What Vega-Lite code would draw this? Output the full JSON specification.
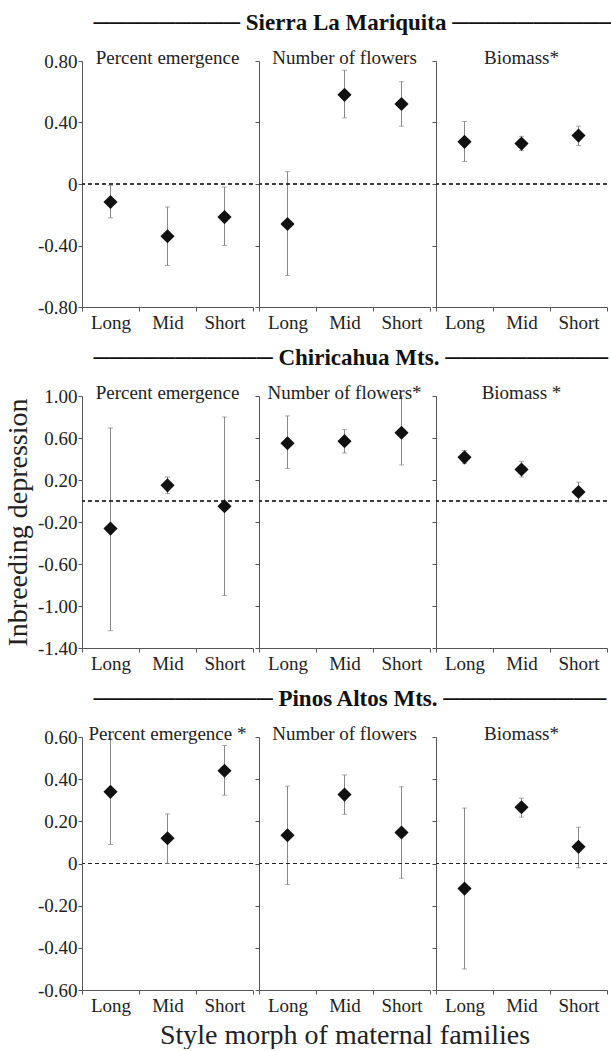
{
"$schema": "https://vega.github.io/schema/vega-lite/v6.json",
"padding": {"left": 4, "top": 12, "right": 0, "bottom": 0},
"spacing": 15,
"datasets": {"d": [
{"site":"SLM","measure":"PE","morph":"Long","v":-0.117,"lo":-0.22,"hi":-0.01},
{"site":"SLM","measure":"PE","morph":"Mid","v":-0.34,"lo":-0.53,"hi":-0.15},
{"site":"SLM","measure":"PE","morph":"Short","v":-0.215,"lo":-0.40,"hi":-0.02},
{"site":"SLM","measure":"NF","morph":"Long","v":-0.26,"lo":-0.595,"hi":0.08},
{"site":"SLM","measure":"NF","morph":"Mid","v":0.58,"lo":0.43,"hi":0.74},
{"site":"SLM","measure":"NF","morph":"Short","v":0.52,"lo":0.376,"hi":0.665},
{"site":"SLM","measure":"B","morph":"Long","v":0.274,"lo":0.146,"hi":0.407},
{"site":"SLM","measure":"B","morph":"Mid","v":0.263,"lo":0.217,"hi":0.31},
{"site":"SLM","measure":"B","morph":"Short","v":0.315,"lo":0.25,"hi":0.376},
{"site":"CH","measure":"PE","morph":"Long","v":-0.263,"lo":-1.235,"hi":0.695},
{"site":"CH","measure":"PE","morph":"Mid","v":0.149,"lo":0.07,"hi":0.23},
{"site":"CH","measure":"PE","morph":"Short","v":-0.05,"lo":-0.90,"hi":0.80},
{"site":"CH","measure":"NF","morph":"Long","v":0.55,"lo":0.31,"hi":0.81},
{"site":"CH","measure":"NF","morph":"Mid","v":0.57,"lo":0.457,"hi":0.68},
{"site":"CH","measure":"NF","morph":"Short","v":0.65,"lo":0.343,"hi":1.0},
{"site":"CH","measure":"B","morph":"Long","v":0.416,"lo":0.356,"hi":0.48},
{"site":"CH","measure":"B","morph":"Mid","v":0.30,"lo":0.229,"hi":0.378},
{"site":"CH","measure":"B","morph":"Short","v":0.086,"lo":-0.01,"hi":0.18},
{"site":"PA","measure":"PE","morph":"Long","v":0.34,"lo":0.09,"hi":0.59},
{"site":"PA","measure":"PE","morph":"Mid","v":0.12,"lo":0.0,"hi":0.235},
{"site":"PA","measure":"PE","morph":"Short","v":0.44,"lo":0.324,"hi":0.56},
{"site":"PA","measure":"NF","morph":"Long","v":0.134,"lo":-0.10,"hi":0.367},
{"site":"PA","measure":"NF","morph":"Mid","v":0.327,"lo":0.233,"hi":0.42},
{"site":"PA","measure":"NF","morph":"Short","v":0.147,"lo":-0.07,"hi":0.364},
{"site":"PA","measure":"B","morph":"Long","v":-0.119,"lo":-0.50,"hi":0.263},
{"site":"PA","measure":"B","morph":"Mid","v":0.267,"lo":0.22,"hi":0.31},
{"site":"PA","measure":"B","morph":"Short","v":0.079,"lo":-0.02,"hi":0.172}
]},
"data": {"name": "d"},
"vconcat": [
{"title": {"text": "─────────   Sierra La Mariquita  ──────────", "fontSize": 23, "fontWeight": "bold", "anchor": "start", "dx": 89, "offset": -4, "color": "#111", "baseline": "alphabetic", "frame": "bounds"},
 "bounds": "flush", "spacing": 6,
 "hconcat": [
 {"width":171,"height":246,"title":"Percent emergence","transform":[{"filter":"datum.site==='SLM' && datum.measure==='PE'"}],
  "layer":[
   {"mark":{"type":"rule","color":"#888"},"encoding":{"x":{"field":"morph","type":"nominal","sort":["Long","Mid","Short"],"title":null,"scale":{"paddingInner":0,"paddingOuter":0}},"y":{"field":"lo","type":"quantitative","title":"I","scale":{"domain":[-0.8,0.8],"nice":false,"zero":false},"axis":{"values":[-0.8,-0.6,-0.4,-0.2,0,0.2,0.4,0.6,0.8],"labelOverlap":false,"labelExpr":"datum.value == 0 ? '0' : (datum.value < 0 ? '-' : '') + format(abs(datum.value), '.2f')","titleColor":"transparent","titleFontSize":28,"titlePadding":5}},"y2":{"field":"hi"}}},
   {"mark":{"type":"rule","color":"#222","strokeDash":[4,3]},"encoding":{"y":{"datum":0,"type":"quantitative"}}},
   {"mark":{"type":"tick","color":"#888","size":5,"thickness":1},"encoding":{"x":{"field":"morph","type":"nominal","sort":["Long","Mid","Short"],"title":null},"y":{"field":"lo","type":"quantitative","title":"I"}}},
   {"mark":{"type":"tick","color":"#888","size":5,"thickness":1},"encoding":{"x":{"field":"morph","type":"nominal","sort":["Long","Mid","Short"],"title":null},"y":{"field":"hi","type":"quantitative","title":"I"}}},
   {"mark":{"type":"point","shape":"diamond","filled":true,"color":"#111","size":200,"opacity":1},"encoding":{"x":{"field":"morph","type":"nominal","sort":["Long","Mid","Short"],"title":null},"y":{"field":"v","type":"quantitative","title":"I"}}}
  ]},
 {"width":171,"height":246,"title":"Number of flowers","transform":[{"filter":"datum.site==='SLM' && datum.measure==='NF'"}],
  "layer":[
   {"mark":{"type":"rule","color":"#888"},"encoding":{"x":{"field":"morph","type":"nominal","sort":["Long","Mid","Short"],"title":null,"scale":{"paddingInner":0,"paddingOuter":0}},"y":{"field":"lo","type":"quantitative","title":null,"scale":{"domain":[-0.8,0.8],"nice":false,"zero":false},"axis":{"values":[-0.8,-0.6,-0.4,-0.2,0,0.2,0.4,0.6,0.8],"labelOverlap":false,"labelColor":"transparent"}},"y2":{"field":"hi"}}},
   {"mark":{"type":"rule","color":"#222","strokeDash":[4,3]},"encoding":{"y":{"datum":0,"type":"quantitative"}}},
   {"mark":{"type":"tick","color":"#888","size":5,"thickness":1},"encoding":{"x":{"field":"morph","type":"nominal","sort":["Long","Mid","Short"],"title":null},"y":{"field":"lo","type":"quantitative","title":null}}},
   {"mark":{"type":"tick","color":"#888","size":5,"thickness":1},"encoding":{"x":{"field":"morph","type":"nominal","sort":["Long","Mid","Short"],"title":null},"y":{"field":"hi","type":"quantitative","title":null}}},
   {"mark":{"type":"point","shape":"diamond","filled":true,"color":"#111","size":200,"opacity":1},"encoding":{"x":{"field":"morph","type":"nominal","sort":["Long","Mid","Short"],"title":null},"y":{"field":"v","type":"quantitative","title":null}}}
  ]},
 {"width":171,"height":246,"title":"Biomass*","transform":[{"filter":"datum.site==='SLM' && datum.measure==='B'"}],
  "layer":[
   {"mark":{"type":"rule","color":"#888"},"encoding":{"x":{"field":"morph","type":"nominal","sort":["Long","Mid","Short"],"title":null,"scale":{"paddingInner":0,"paddingOuter":0}},"y":{"field":"lo","type":"quantitative","title":null,"scale":{"domain":[-0.8,0.8],"nice":false,"zero":false},"axis":{"values":[-0.8,-0.6,-0.4,-0.2,0,0.2,0.4,0.6,0.8],"labelOverlap":false,"labelColor":"transparent"}},"y2":{"field":"hi"}}},
   {"mark":{"type":"rule","color":"#222","strokeDash":[4,3]},"encoding":{"y":{"datum":0,"type":"quantitative"}}},
   {"mark":{"type":"tick","color":"#888","size":5,"thickness":1},"encoding":{"x":{"field":"morph","type":"nominal","sort":["Long","Mid","Short"],"title":null},"y":{"field":"lo","type":"quantitative","title":null}}},
   {"mark":{"type":"tick","color":"#888","size":5,"thickness":1},"encoding":{"x":{"field":"morph","type":"nominal","sort":["Long","Mid","Short"],"title":null},"y":{"field":"hi","type":"quantitative","title":null}}},
   {"mark":{"type":"point","shape":"diamond","filled":true,"color":"#111","size":200,"opacity":1},"encoding":{"x":{"field":"morph","type":"nominal","sort":["Long","Mid","Short"],"title":null},"y":{"field":"v","type":"quantitative","title":null}}}
  ]}
 ]},
{"title": {"text": "───────────  Chiricahua Mts.  ──────────", "fontSize": 23, "fontWeight": "bold", "anchor": "start", "dx": 89, "offset": -4, "color": "#111", "baseline": "alphabetic", "frame": "bounds"},
 "bounds": "flush", "spacing": 6,
 "hconcat": [
 {"width":171,"height":252,"title":"Percent emergence","transform":[{"filter":"datum.site==='CH' && datum.measure==='PE'"}],
  "layer":[
   {"mark":{"type":"rule","color":"#888"},"encoding":{"x":{"field":"morph","type":"nominal","sort":["Long","Mid","Short"],"title":null,"scale":{"paddingInner":0,"paddingOuter":0}},"y":{"field":"lo","type":"quantitative","title":"Inbreeding depression","scale":{"domain":[-1.4,1.0],"nice":false,"zero":false},"axis":{"values":[-1.4,-1.2,-1.0,-0.8,-0.6,-0.4,-0.2,0,0.2,0.4,0.6,0.8,1.0],"labelOverlap":false,"labelExpr":"(abs(datum.value) == 0.4 || abs(datum.value) == 0.8 || datum.value == -1.2) ? '' : (datum.value == 0 ? '0' : (datum.value < 0 ? '-' : '') + format(abs(datum.value), '.2f'))","titleFontSize":28,"titlePadding":5}},"y2":{"field":"hi"}}},
   {"mark":{"type":"rule","color":"#222","strokeDash":[4,3]},"encoding":{"y":{"datum":0,"type":"quantitative"}}},
   {"mark":{"type":"tick","color":"#888","size":5,"thickness":1},"encoding":{"x":{"field":"morph","type":"nominal","sort":["Long","Mid","Short"],"title":null},"y":{"field":"lo","type":"quantitative","title":"Inbreeding depression"}}},
   {"mark":{"type":"tick","color":"#888","size":5,"thickness":1},"encoding":{"x":{"field":"morph","type":"nominal","sort":["Long","Mid","Short"],"title":null},"y":{"field":"hi","type":"quantitative","title":"Inbreeding depression"}}},
   {"mark":{"type":"point","shape":"diamond","filled":true,"color":"#111","size":200,"opacity":1},"encoding":{"x":{"field":"morph","type":"nominal","sort":["Long","Mid","Short"],"title":null},"y":{"field":"v","type":"quantitative","title":"Inbreeding depression"}}}
  ]},
 {"width":171,"height":252,"title":"Number of flowers*","transform":[{"filter":"datum.site==='CH' && datum.measure==='NF'"}],
  "layer":[
   {"mark":{"type":"rule","color":"#888"},"encoding":{"x":{"field":"morph","type":"nominal","sort":["Long","Mid","Short"],"title":null,"scale":{"paddingInner":0,"paddingOuter":0}},"y":{"field":"lo","type":"quantitative","title":null,"scale":{"domain":[-1.4,1.0],"nice":false,"zero":false},"axis":{"values":[-1.4,-1.2,-1.0,-0.8,-0.6,-0.4,-0.2,0,0.2,0.4,0.6,0.8,1.0],"labelOverlap":false,"labelColor":"transparent"}},"y2":{"field":"hi"}}},
   {"mark":{"type":"rule","color":"#222","strokeDash":[4,3]},"encoding":{"y":{"datum":0,"type":"quantitative"}}},
   {"mark":{"type":"tick","color":"#888","size":5,"thickness":1},"encoding":{"x":{"field":"morph","type":"nominal","sort":["Long","Mid","Short"],"title":null},"y":{"field":"lo","type":"quantitative","title":null}}},
   {"mark":{"type":"tick","color":"#888","size":5,"thickness":1},"encoding":{"x":{"field":"morph","type":"nominal","sort":["Long","Mid","Short"],"title":null},"y":{"field":"hi","type":"quantitative","title":null}}},
   {"mark":{"type":"point","shape":"diamond","filled":true,"color":"#111","size":200,"opacity":1},"encoding":{"x":{"field":"morph","type":"nominal","sort":["Long","Mid","Short"],"title":null},"y":{"field":"v","type":"quantitative","title":null}}}
  ]},
 {"width":171,"height":252,"title":"Biomass *","transform":[{"filter":"datum.site==='CH' && datum.measure==='B'"}],
  "layer":[
   {"mark":{"type":"rule","color":"#888"},"encoding":{"x":{"field":"morph","type":"nominal","sort":["Long","Mid","Short"],"title":null,"scale":{"paddingInner":0,"paddingOuter":0}},"y":{"field":"lo","type":"quantitative","title":null,"scale":{"domain":[-1.4,1.0],"nice":false,"zero":false},"axis":{"values":[-1.4,-1.2,-1.0,-0.8,-0.6,-0.4,-0.2,0,0.2,0.4,0.6,0.8,1.0],"labelOverlap":false,"labelColor":"transparent"}},"y2":{"field":"hi"}}},
   {"mark":{"type":"rule","color":"#222","strokeDash":[4,3]},"encoding":{"y":{"datum":0,"type":"quantitative"}}},
   {"mark":{"type":"tick","color":"#888","size":5,"thickness":1},"encoding":{"x":{"field":"morph","type":"nominal","sort":["Long","Mid","Short"],"title":null},"y":{"field":"lo","type":"quantitative","title":null}}},
   {"mark":{"type":"tick","color":"#888","size":5,"thickness":1},"encoding":{"x":{"field":"morph","type":"nominal","sort":["Long","Mid","Short"],"title":null},"y":{"field":"hi","type":"quantitative","title":null}}},
   {"mark":{"type":"point","shape":"diamond","filled":true,"color":"#111","size":200,"opacity":1},"encoding":{"x":{"field":"morph","type":"nominal","sort":["Long","Mid","Short"],"title":null},"y":{"field":"v","type":"quantitative","title":null}}}
  ]}
 ]},
{"title": {"text": "───────────  Pinos Altos Mts.  ──────────", "fontSize": 23, "fontWeight": "bold", "anchor": "start", "dx": 89, "offset": -4, "color": "#111", "baseline": "alphabetic", "frame": "bounds"},
 "bounds": "flush", "spacing": 6,
 "hconcat": [
 {"width":171,"height":253,"title":"Percent emergence *","transform":[{"filter":"datum.site==='PA' && datum.measure==='PE'"}],
  "layer":[
   {"mark":{"type":"rule","color":"#888"},"encoding":{"x":{"field":"morph","type":"nominal","sort":["Long","Mid","Short"],"title":null,"scale":{"paddingInner":0,"paddingOuter":0}},"y":{"field":"lo","type":"quantitative","title":"I","scale":{"domain":[-0.6,0.6],"nice":false,"zero":false},"axis":{"values":[-0.6,-0.4,-0.2,0,0.2,0.4,0.6],"labelOverlap":false,"labelExpr":"datum.value == 0 ? '0' : (datum.value < 0 ? '-' : '') + format(abs(datum.value), '.2f')","titleColor":"transparent","titleFontSize":28,"titlePadding":5}},"y2":{"field":"hi"}}},
   {"mark":{"type":"rule","color":"#222","strokeDash":[4,3]},"encoding":{"y":{"datum":0,"type":"quantitative"}}},
   {"mark":{"type":"tick","color":"#888","size":5,"thickness":1},"encoding":{"x":{"field":"morph","type":"nominal","sort":["Long","Mid","Short"],"title":null},"y":{"field":"lo","type":"quantitative","title":"I"}}},
   {"mark":{"type":"tick","color":"#888","size":5,"thickness":1},"encoding":{"x":{"field":"morph","type":"nominal","sort":["Long","Mid","Short"],"title":null},"y":{"field":"hi","type":"quantitative","title":"I"}}},
   {"mark":{"type":"point","shape":"diamond","filled":true,"color":"#111","size":200,"opacity":1},"encoding":{"x":{"field":"morph","type":"nominal","sort":["Long","Mid","Short"],"title":null},"y":{"field":"v","type":"quantitative","title":"I"}}}
  ]},
 {"width":171,"height":253,"title":"Number of flowers","transform":[{"filter":"datum.site==='PA' && datum.measure==='NF'"}],
  "layer":[
   {"mark":{"type":"rule","color":"#888"},"encoding":{"x":{"field":"morph","type":"nominal","sort":["Long","Mid","Short"],"title":"Style morph of maternal families","scale":{"paddingInner":0,"paddingOuter":0},"axis":{"titleFontSize":28,"titlePadding":6}},"y":{"field":"lo","type":"quantitative","title":null,"scale":{"domain":[-0.6,0.6],"nice":false,"zero":false},"axis":{"values":[-0.6,-0.4,-0.2,0,0.2,0.4,0.6],"labelOverlap":false,"labelColor":"transparent"}},"y2":{"field":"hi"}}},
   {"mark":{"type":"rule","color":"#222","strokeDash":[4,3]},"encoding":{"y":{"datum":0,"type":"quantitative"}}},
   {"mark":{"type":"tick","color":"#888","size":5,"thickness":1},"encoding":{"x":{"field":"morph","type":"nominal","sort":["Long","Mid","Short"],"title":"Style morph of maternal families"},"y":{"field":"lo","type":"quantitative","title":null}}},
   {"mark":{"type":"tick","color":"#888","size":5,"thickness":1},"encoding":{"x":{"field":"morph","type":"nominal","sort":["Long","Mid","Short"],"title":"Style morph of maternal families"},"y":{"field":"hi","type":"quantitative","title":null}}},
   {"mark":{"type":"point","shape":"diamond","filled":true,"color":"#111","size":200,"opacity":1},"encoding":{"x":{"field":"morph","type":"nominal","sort":["Long","Mid","Short"],"title":"Style morph of maternal families"},"y":{"field":"v","type":"quantitative","title":null}}}
  ]},
 {"width":171,"height":253,"title":"Biomass*","transform":[{"filter":"datum.site==='PA' && datum.measure==='B'"}],
  "layer":[
   {"mark":{"type":"rule","color":"#888"},"encoding":{"x":{"field":"morph","type":"nominal","sort":["Long","Mid","Short"],"title":null,"scale":{"paddingInner":0,"paddingOuter":0}},"y":{"field":"lo","type":"quantitative","title":null,"scale":{"domain":[-0.6,0.6],"nice":false,"zero":false},"axis":{"values":[-0.6,-0.4,-0.2,0,0.2,0.4,0.6],"labelOverlap":false,"labelColor":"transparent"}},"y2":{"field":"hi"}}},
   {"mark":{"type":"rule","color":"#222","strokeDash":[4,3]},"encoding":{"y":{"datum":0,"type":"quantitative"}}},
   {"mark":{"type":"tick","color":"#888","size":5,"thickness":1},"encoding":{"x":{"field":"morph","type":"nominal","sort":["Long","Mid","Short"],"title":null},"y":{"field":"lo","type":"quantitative","title":null}}},
   {"mark":{"type":"tick","color":"#888","size":5,"thickness":1},"encoding":{"x":{"field":"morph","type":"nominal","sort":["Long","Mid","Short"],"title":null},"y":{"field":"hi","type":"quantitative","title":null}}},
   {"mark":{"type":"point","shape":"diamond","filled":true,"color":"#111","size":200,"opacity":1},"encoding":{"x":{"field":"morph","type":"nominal","sort":["Long","Mid","Short"],"title":null},"y":{"field":"v","type":"quantitative","title":null}}}
  ]}
 ]}
],
"config": {
 "font": "Liberation Serif",
 "view": {"stroke": null},
 "axis": {"grid": false, "domainColor": "#555", "tickColor": "#555", "labelColor": "#222", "titleColor": "#222", "labelFont": "Liberation Serif", "titleFont": "Liberation Serif", "titleFontWeight": "normal", "tickSize": 4, "labelFontSize": 19, "labelOverlap": false},
 "axisX": {"tickBand": "extent", "labelAngle": 0, "labelPadding": 2},
 "axisY": {"labelPadding": 1},
 "title": {"font": "Liberation Serif", "fontSize": 19, "fontWeight": "normal", "color": "#222", "offset": -16, "frame": "group", "baseline": "alphabetic"}
}
}
